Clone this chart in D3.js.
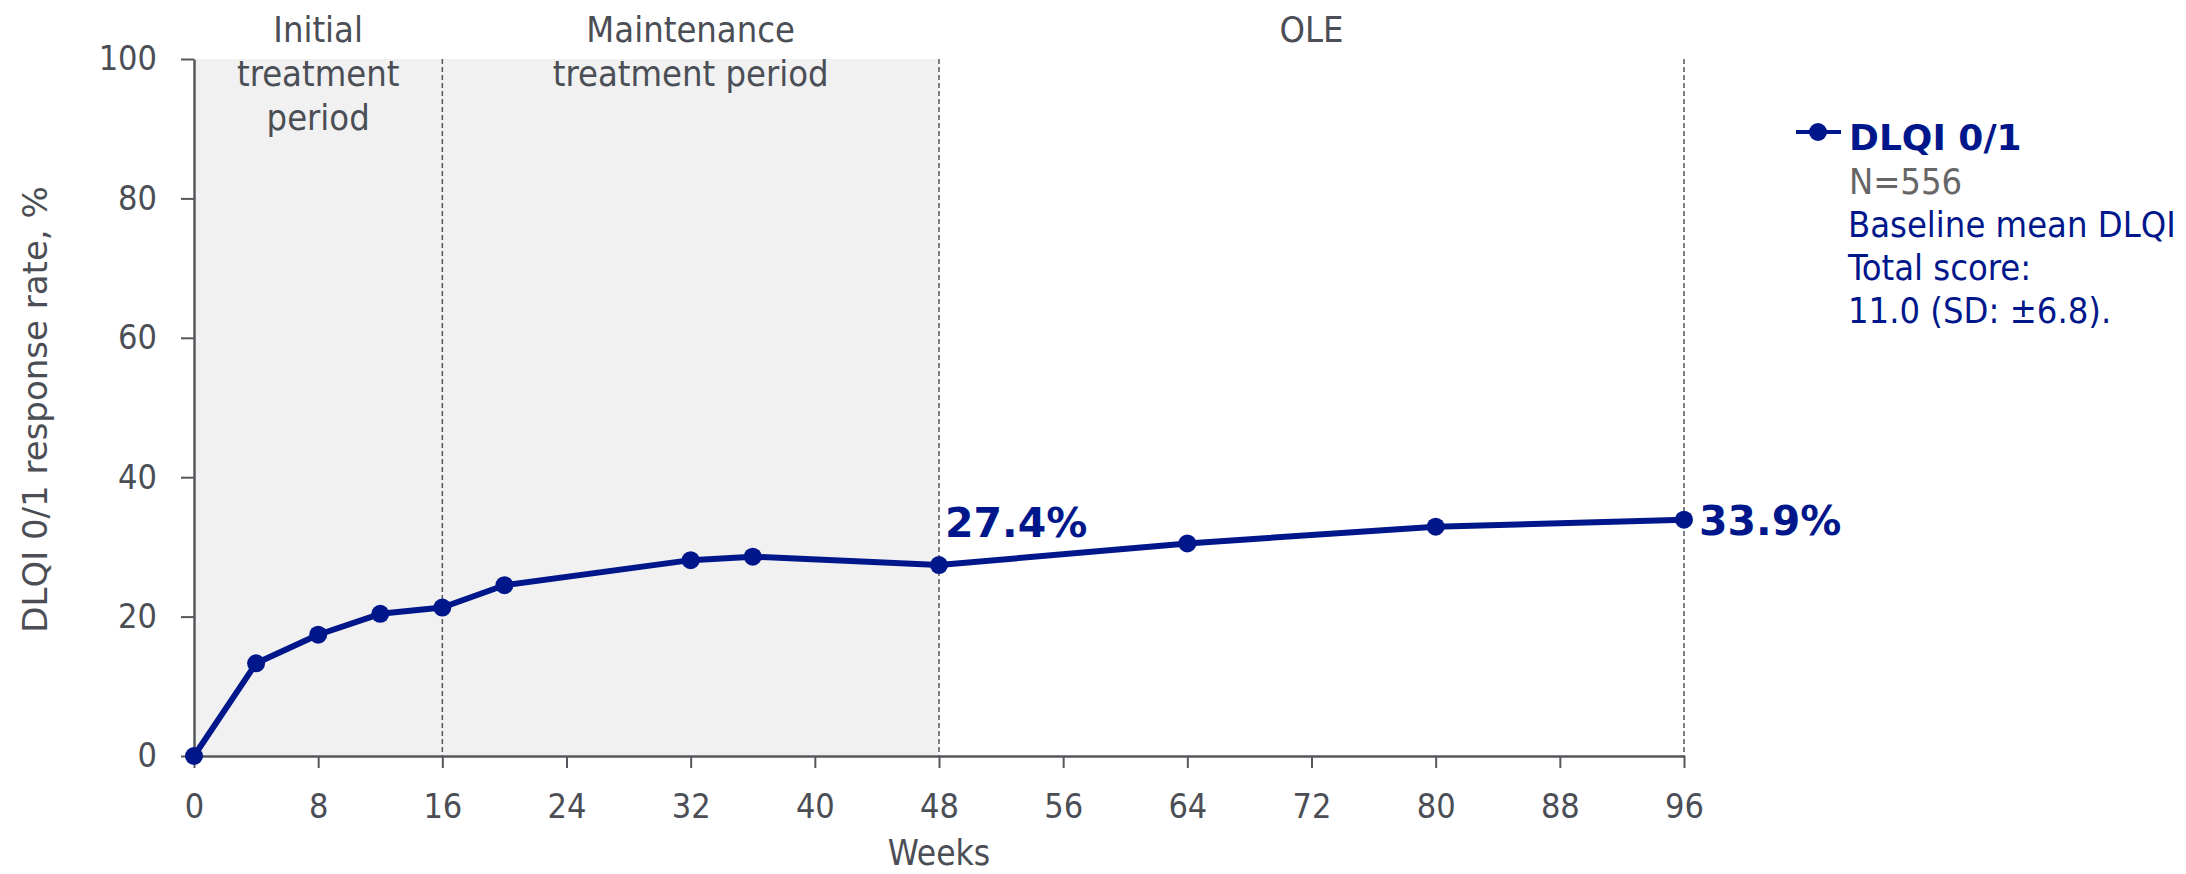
<!DOCTYPE html>
<html>
<head>
<meta charset="utf-8">
<script src="https://cdn.jsdelivr.net/npm/d3@7"></script>
<style>
  html, body { margin: 0; padding: 0; background: #fff; }
  svg { display: block; }
  .cond { font-family: "DejaVu Sans Condensed", "DejaVu Sans", sans-serif; font-stretch: condensed; }
  .wide { font-family: "DejaVu Sans", sans-serif; }
</style>
</head>
<body>
<svg id="chart" width="2186" height="874"></svg>
<script>
// DLQI 0/1 response rate over time
const weeks    = [0, 4, 8, 12, 16, 20, 32, 36, 48, 64, 80, 96];
const response = [0, 13.3, 17.4, 20.4, 21.3, 24.5, 28.1, 28.6, 27.4, 30.5, 32.9, 33.9];
const xTicks = [0, 8, 16, 24, 32, 40, 48, 56, 64, 72, 80, 88, 96];
const yTicks = [0, 20, 40, 60, 80, 100];
const periodStarts = [0, 16, 48];
const periodEnds   = [16, 48, 96];
const periodLines  = [["Initial", "treatment", "period"], ["Maintenance", "treatment period"], ["OLE"]];
const shadedUntil = 48;
const dividerWeeks = [16, 48, 96];
const labelledWeeks = [48, 96];
const legendTitle = "DLQI 0/1";
const legendN = "N=556";
const legendNotes = ["Baseline mean DLQI", "Total score:", "11.0 (SD: \u00b16.8)."];

const navy = "#00178b";
const grey = "#4b4e55";
const axisGrey = "#55575c";

const svg = d3.select("#chart");
const x = d3.scaleLinear().domain([0, 96]).range([194, 1684]);
const y = d3.scaleLinear().domain([0, 100]).range([756, 59]);

// shaded treatment periods
svg.append("rect")
  .attr("x", x(0)).attr("y", y(100))
  .attr("width", x(shadedUntil) - x(0))
  .attr("height", y(0) - y(100))
  .attr("fill", "#f1f1f1");

// period dividers
svg.selectAll("line.divider").data(dividerWeeks).join("line")
  .attr("class", "divider")
  .attr("x1", d => x(d)).attr("x2", d => x(d))
  .attr("y1", y(100)).attr("y2", y(0))
  .attr("stroke", axisGrey).attr("stroke-width", 1.5)
  .attr("stroke-dasharray", "5,3");

// period titles
periodLines.forEach((lines, i) => {
  const cx = (x(periodStarts[i]) + x(periodEnds[i])) / 2;
  const t = svg.append("text").attr("class", "cond")
    .attr("text-anchor", "middle").attr("fill", grey)
    .attr("font-size", 36);
  lines.forEach((ln, j) => {
    t.append("tspan").attr("x", cx).attr("y", 42 + j * 44).text(ln);
  });
});

// axes
const xAxis = d3.axisBottom(x).tickValues(xTicks).tickSize(12).tickSizeOuter(0).tickPadding(26);
const yAxis = d3.axisLeft(y).tickValues(yTicks).tickSize(13).tickSizeOuter(0).tickPadding(24);

const gx = svg.append("g").attr("transform", `translate(0,${y(0)})`).call(xAxis);
const gy = svg.append("g").attr("transform", `translate(${x(0)},0)`).call(yAxis);
[gx, gy].forEach(g => {
  g.select(".domain").attr("stroke", axisGrey).attr("stroke-width", 2.5);
  g.selectAll(".tick line").attr("stroke", axisGrey).attr("stroke-width", 2);
  g.selectAll(".tick text").attr("class", "cond").attr("fill", grey).attr("font-size", 34);
});

// axis titles
svg.append("text").attr("class", "cond")
  .attr("x", (x(0) + x(96)) / 2).attr("y", 865)
  .attr("text-anchor", "middle").attr("fill", grey).attr("font-size", 35)
  .text("Weeks");

svg.append("text").attr("class", "wide")
  .attr("transform", `translate(47,${(y(0) + y(100)) / 2 + 2}) rotate(-90)`)
  .attr("text-anchor", "middle").attr("fill", grey)
  .attr("font-size", 34)
  .text("DLQI 0/1 response rate, %");

// response line and markers
const pts = weeks.map((w, i) => ({ w, v: response[i] }));
svg.append("path").datum(pts)
  .attr("fill", "none").attr("stroke", navy).attr("stroke-width", 6)
  .attr("stroke-linejoin", "round")
  .attr("d", d3.line().x(d => x(d.w)).y(d => y(d.v)));

svg.selectAll("circle.pt").data(pts).join("circle")
  .attr("class", "pt")
  .attr("cx", d => x(d.w)).attr("cy", d => y(d.v)).attr("r", 9)
  .attr("fill", navy);

// value labels
const lab = pts.filter(d => labelledWeeks.includes(d.w));
svg.selectAll("text.val").data(lab).join("text")
  .attr("class", "val wide")
  .attr("font-weight", "bold").attr("font-size", 41).attr("fill", navy)
  .attr("x", d => d.w === 96 ? x(d.w) + 15 : x(d.w) + 6)
  .attr("y", d => d.w === 96 ? y(d.v) + 15 : y(d.v) - 28)
  .text(d => d.v.toFixed(1) + "%");

// legend
const lg = svg.append("g");
lg.append("line").attr("x1", 1796).attr("x2", 1841).attr("y1", 132).attr("y2", 132)
  .attr("stroke", navy).attr("stroke-width", 4);
lg.append("circle").attr("cx", 1818).attr("cy", 132).attr("r", 9).attr("fill", navy);
lg.append("text").attr("class", "wide").attr("x", 1849).attr("y", 150)
  .attr("font-weight", "bold").attr("font-size", 36).attr("fill", navy)
  .text(legendTitle);
lg.append("text").attr("class", "cond").attr("x", 1849).attr("y", 194)
  .attr("font-size", 36).attr("fill", "#666").text(legendN);
lg.selectAll("text.note").data(legendNotes).join("text")
  .attr("class", "note cond")
  .attr("x", 1848).attr("y", (d, i) => 237 + i * 43)
  .attr("font-size", 36).attr("fill", navy)
  .text(d => d);
</script>
</body>
</html>
